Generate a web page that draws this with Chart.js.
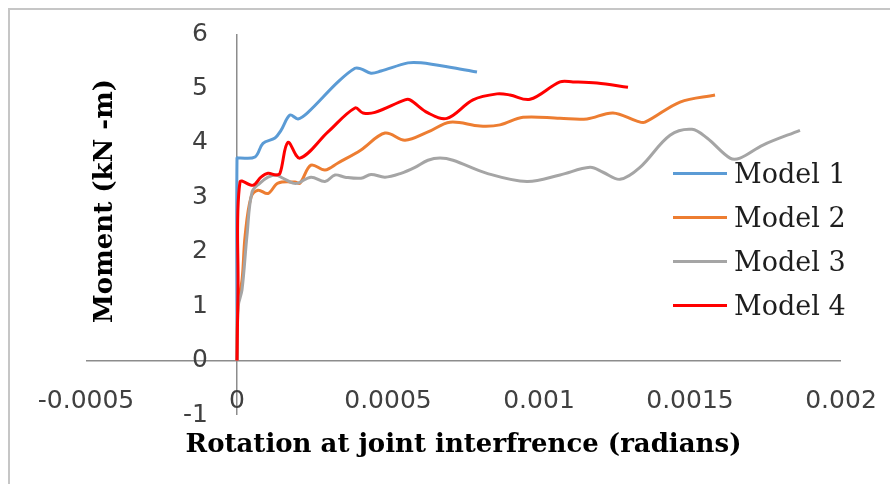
<!DOCTYPE html>
<html>
<head>
<meta charset="utf-8">
<script src="https://cdn.jsdelivr.net/npm/chart.js@4/dist/chart.umd.min.js"></script>
<style>
  html, body { margin: 0; padding: 0; background: #fff; overflow: hidden; }
  #wrap { position: relative; width: 890px; height: 484px; }
  #frame { position: absolute; left: 8px; top: 8px; width: 900px; height: 500px;
           border: 2px solid #c6c6c6; box-sizing: border-box; }
  #chart { position: absolute; left: 0; top: 0; }
  #legend { position: absolute; left: 673px; top: 151px;
            font: 27px "DejaVu Serif", serif; color: #1e1e1e; }
  .item { display: flex; align-items: center; height: 44px; }
  .swatch { width: 54px; height: 3px; margin-right: 7px; }
</style>
</head>
<body>
<div id="wrap">
  <div id="frame"></div>
  <canvas id="chart" width="890" height="484"></canvas>
  <div id="legend"></div>
</div>
<script>
// ---- data ----
const seriesNames  = ['Model 1', 'Model 2', 'Model 3', 'Model 4'];
const seriesColors = ['#5b9bd5', '#ed7d31', '#a5a5a5', '#ff0000'];

const xTickLabels = ['-0.0005', '0', '0.0005', '0.001', '0.0015', '0.002'];
const xTitle = 'Rotation at joint interfrence (radians)';
const yTitle = 'Moment (kN -m)';

const m1X = [0, 0, 0.0000066, 0.0000596, 0.0000861, 0.0001258, 0.0001457, 0.0001755, 0.000202, 0.0002351,
             0.0003344, 0.0003907, 0.0004106, 0.0004437, 0.0004768, 0.0005662, 0.0006092, 0.0007152, 0.0007947];
const m1Y = [0, 3.72, 3.72, 3.74, 3.99, 4.09, 4.23, 4.51, 4.44, 4.56,
             5.12, 5.37, 5.36, 5.28, 5.32, 5.47, 5.47, 5.38, 5.30];

const m2X = [0, 0.000003, 0.000017, 0.000027, 0.0000463, 0.0000695, 0.0001026, 0.0001357, 0.0001921, 0.0002086,
             0.000245, 0.0002914, 0.0003344, 0.0004106, 0.0004901, 0.0005563, 0.0006324, 0.0007053, 0.0008046,
             0.0008709, 0.000947, 0.0010695, 0.0011589, 0.001245, 0.0013245, 0.001351, 0.0014669, 0.0015828];
const m2Y = [0, 1.0, 1.5, 2.3, 3.0, 3.13, 3.07, 3.26, 3.28, 3.26,
             3.59, 3.50, 3.63, 3.87, 4.18, 4.05, 4.20, 4.38, 4.31,
             4.33, 4.47, 4.45, 4.44, 4.55, 4.40, 4.38, 4.75, 4.88];

const m3X = [0, 0.000004, 0.0000166, 0.0000331, 0.000050, 0.0000762, 0.0001026, 0.0001291, 0.0001523, 0.0001854,
             0.000202, 0.000245, 0.0002914, 0.0003245, 0.0003576, 0.0004106, 0.0004437, 0.0004901, 0.000543,
             0.0005894, 0.0006324, 0.0006722, 0.0007152, 0.0008278, 0.0009603, 0.0010695, 0.0011689, 0.0012119,
             0.0012682, 0.0013344, 0.0014338, 0.0015066, 0.0015563, 0.0016325, 0.0016656, 0.0017417, 0.0018642];
const m3Y = [0, 1.0, 1.3, 2.3, 3.1, 3.26, 3.37, 3.41, 3.35, 3.26,
             3.26, 3.37, 3.29, 3.41, 3.37, 3.35, 3.42, 3.37, 3.44,
             3.55, 3.68, 3.72, 3.68, 3.44, 3.29, 3.41, 3.55, 3.46,
             3.33, 3.55, 4.14, 4.25, 4.09, 3.72, 3.72, 3.96, 4.23];

const m4X = [0, 0.0000033, 0.0000099, 0.000053, 0.0000795, 0.0001026, 0.0001291, 0.0001424, 0.0001689, 0.0002086,
             0.0003013, 0.0003907, 0.0004172, 0.0004569, 0.0005563, 0.0005728, 0.0006324, 0.0006953, 0.0007814,
             0.0008609, 0.0009039, 0.0009702, 0.0010695, 0.0011126, 0.0011921, 0.0012947];
const m4Y = [0, 1.29, 3.28, 3.22, 3.37, 3.44, 3.41, 3.44, 4.01, 3.72,
             4.20, 4.64, 4.55, 4.56, 4.79, 4.79, 4.55, 4.45, 4.79,
             4.90, 4.88, 4.80, 5.12, 5.12, 5.10, 5.02];

const seriesX = [m1X, m2X, m3X, m4X];
const seriesY = [m1Y, m2Y, m3Y, m4Y];

const tickFont  = { family: 'DejaVu Sans', size: 25 };
const titleFont = { family: 'DejaVu Serif', size: 26, weight: 'bold' };
const axisColor = '#8c8c8c';

// y title sits a bit above the plot centre, like the Excel original
const yTitlePlugin = {
  id: 'yTitle',
  afterDraw(chart) {
    const { ctx, chartArea } = chart;
    ctx.save();
    ctx.translate(chartArea.left + 19, chartArea.top + 167);
    ctx.rotate(-Math.PI / 2);
    ctx.font = 'bold 26px "DejaVu Serif"';
    ctx.fillStyle = '#000';
    ctx.textAlign = 'center';
    ctx.textBaseline = 'middle';
    ctx.fillText(yTitle, 0, 0);
    ctx.restore();
  }
};

const datasets = seriesNames.map((name, i) => ({
  label: name,
  data: seriesX[i].map((x, j) => ({ x, y: seriesY[i][j] })),
  showLine: true,
  borderColor: seriesColors[i],
  backgroundColor: seriesColors[i],
  borderWidth: 3,
  pointRadius: 0,
  tension: 0.35,
  order: seriesNames.length - i,   // later models on top, as in Excel
}));

const zeroLine = c => (Math.abs(c.tick.value) < 1e-9 ? axisColor : 'rgba(0,0,0,0)');

new Chart(document.getElementById('chart'), {
  type: 'scatter',
  data: { datasets },
  plugins: [yTitlePlugin],
  options: {
    responsive: false,
    animation: false,
    layout: { padding: { left: 0, top: 34, right: 49, bottom: 23 } },
    plugins: { legend: { display: false }, tooltip: { enabled: false } },
    scales: {
      x: {
        type: 'linear',
        min: -0.0005, max: 0.002,
        border: { display: false },
        grid: { color: zeroLine, lineWidth: 1.5, drawTicks: false },
        ticks: {
          stepSize: 0.0005, maxRotation: 0, autoSkip: false,
          mirror: true, padding: -1, color: '#404040', font: tickFont,
          callback: (v, i) => xTickLabels[i],
        },
        title: { display: true, text: xTitle, color: '#000', font: titleFont, padding: 0 },
        afterFit: s => { s.height = 46; },
      },
      y: {
        min: -1, max: 6,
        border: { display: false },
        grid: { color: zeroLine, lineWidth: 1.5, drawTicks: false },
        ticks: {
          stepSize: 1, mirror: true, crossAlign: 'far', padding: 97,
          color: '#404040', font: tickFont,
        },
        afterFit: s => { s.width = 86; s.paddingTop = 0; s.paddingBottom = 0; },
      },
    },
  },
});

// legend built from the same series lists
const legend = document.getElementById('legend');
seriesNames.forEach((name, i) => {
  const row = document.createElement('div');
  row.className = 'item';
  const sw = document.createElement('span');
  sw.className = 'swatch';
  sw.style.background = seriesColors[i];
  const txt = document.createElement('span');
  txt.textContent = name;
  row.appendChild(sw);
  row.appendChild(txt);
  legend.appendChild(row);
});
</script>
</body>
</html>
